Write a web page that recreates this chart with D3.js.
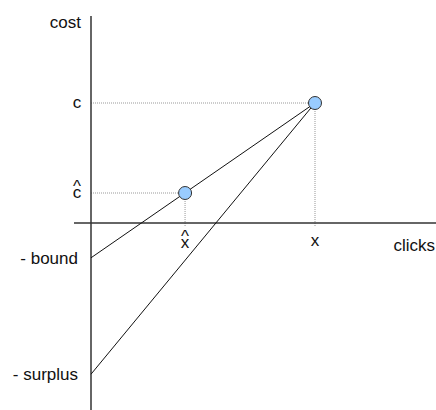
<!DOCTYPE html>
<html>
<head>
<meta charset="utf-8">
<script src="https://cdn.jsdelivr.net/npm/d3@7"></script>
<style>
  body { margin: 0; background: #fff; }
  text { font-family: "Liberation Sans", Arial, sans-serif; font-size: 17px; fill: #111; }
</style>
</head>
<body>
<div id="holder"></div>
<script>
// data (arbitrary units, origin = 0)
var pointNames = ["hat", "actual"];
var pointX = [0.42, 1];
var pointY = [0.25, 1];
var xTickLabels = ["x", "x"];
var yTickLabels = ["c", "c"];
var hatted = [true, false];
var interceptNames = ["- bound", "- surplus"];
var interceptY = [-0.29, -1.26];

var fullWidth = 436, fullHeight = 410;

var svg = d3.select('#holder').append('svg')
  .attr('width', fullWidth)
  .attr('height', fullHeight);

var xScale = d3.scaleLinear().domain([0, 1]).range([91, 315]);
var yScale = d3.scaleLinear().domain([0, 1]).range([223, 103]);

// dotted guide lines
pointX.forEach(function(px, i) {
  svg.append('line')
    .attr('x1', xScale(0)).attr('x2', xScale(px))
    .attr('y1', yScale(pointY[i])).attr('y2', yScale(pointY[i]))
    .attr('stroke', '#999').attr('stroke-width', 1).attr('stroke-dasharray', '1,1');
  svg.append('line')
    .attr('x1', xScale(px)).attr('x2', xScale(px))
    .attr('y1', yScale(pointY[i])).attr('y2', yScale(0) + 3)
    .attr('stroke', '#bbb').attr('stroke-width', 1.5).attr('stroke-dasharray', '1,1');
});

// axes
svg.append('line')
  .attr('x1', xScale(0)).attr('x2', xScale(0))
  .attr('y1', 16).attr('y2', fullHeight)
  .attr('stroke', '#333').attr('stroke-width', 1.5);
svg.append('line')
  .attr('x1', xScale(-0.076)).attr('x2', fullWidth)
  .attr('y1', yScale(0)).attr('y2', yScale(0))
  .attr('stroke', '#333').attr('stroke-width', 1.5);

// the two lines from the intercepts to c
interceptY.forEach(function(iy) {
  svg.append('line')
    .attr('x1', xScale(0)).attr('y1', yScale(iy))
    .attr('x2', xScale(pointX[1])).attr('y2', yScale(pointY[1]))
    .attr('stroke', '#111').attr('stroke-width', 1);
});

// points
svg.selectAll('.pt')
  .data(pointNames)
  .enter().append('circle')
  .attr('class', 'pt')
  .attr('cx', function(d, i) { return xScale(pointX[i]); })
  .attr('cy', function(d, i) { return yScale(pointY[i]); })
  .attr('r', 6.5)
  .attr('fill', '#99ccff')
  .attr('stroke', '#333')
  .attr('stroke-width', 1);

// labels
svg.append('text').attr('x', 81).attr('y', 28).attr('text-anchor', 'end').text('cost');
svg.append('text').attr('x', 435).attr('y', 251).attr('text-anchor', 'end').text('clicks');

// label with a caret placed above it when hatted
function hatLabel(x, y, t, hat) {
  var g = svg.append('text').attr('text-anchor', 'middle');
  if (hat) {
    g.append('tspan').attr('x', x).attr('y', y - 6).text('^');
  }
  g.append('tspan').attr('x', x).attr('y', y).text(t);
}

yTickLabels.forEach(function(t, i) {
  hatLabel(77, yScale(pointY[i]) + (hatted[i] ? 5 : 5), t, hatted[i]);
});
xTickLabels.forEach(function(t, i) {
  hatLabel(xScale(pointX[i]), hatted[i] ? 248 : 246, t, hatted[i]);
});
interceptNames.forEach(function(t, i) {
  svg.append('text')
    .attr('x', 78).attr('y', yScale(interceptY[i]) + 6)
    .attr('text-anchor', 'end').text(t);
});
</script>
</body>
</html>
